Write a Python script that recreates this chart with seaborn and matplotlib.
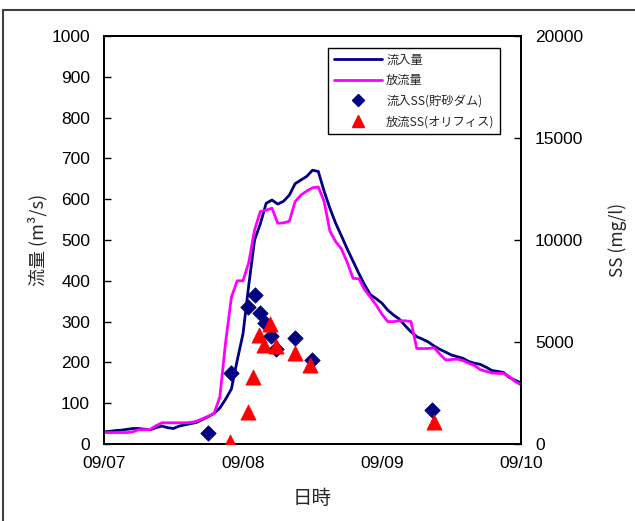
import numpy as np
import pandas as pd
import matplotlib
matplotlib.use("Agg")
import matplotlib.pyplot as plt
import seaborn as sns
from matplotlib.lines import Line2D

sns.set_theme(style="white")
plt.rcParams['font.family'] = ['Liberation Sans', 'Noto Sans CJK JP', 'DejaVu Sans']

# ---- data ----
hours = list(range(73))
inflow = [30, 31, 33, 34, 36, 38, 38, 36, 35, 40, 44, 40, 38, 44, 47, 50, 53, 60, 67, 75,
          88, 110, 135, 205, 270, 390, 500, 540, 590, 598, 588, 595, 610, 638, 647, 656,
          671, 668, 620, 578, 541, 510, 478, 448, 418, 390, 366, 356, 345, 328, 316, 306,
          290, 275, 263, 257, 250, 240, 232, 225, 218, 214, 210, 202, 198, 195, 188, 180,
          178, 175, 163, 156, 150]
outflow = [28, 28, 28, 28, 28, 30, 35, 35, 36, 45, 52, 52, 52, 52, 52, 53, 56, 62, 68, 75,
           115, 250, 360, 400, 400, 445, 525, 570, 573, 578, 541, 542, 546, 594, 610, 620,
           628, 630, 595, 522, 496, 478, 445, 406, 405, 378, 360, 340, 318, 300, 300, 302,
           302, 300, 234, 234, 234, 236, 220, 206, 207, 208, 204, 198, 192, 182, 178, 174,
           173, 173, 165, 153, 145]
ss_in_hours = [17.9, 21.9, 24.8, 26.0, 26.9, 27.8, 28.9, 29.7, 33.0, 35.9, 56.6]
ss_in = [525, 3465, 6730, 7300, 6400, 5915, 5300, 4650, 5220, 4120, 1670]
ss_out_hours = [21.8, 24.8, 25.8, 26.7, 27.7, 28.6, 29.7, 32.9, 35.6, 56.9]
ss_out = [110, 1580, 3300, 5340, 4850, 5900, 4820, 4445, 3870, 1080]
x_ticks = [0, 24, 48, 72]
x_labels = ["09/07", "09/08", "09/09", "09/10"]
labels = ["流入量", "放流量", "流入SS(貯砂ダム)", "放流SS(オリフィス)"]

navy = "#000080"
magenta = "#FF00FF"
red = "#FF0000"

W, H = 635, 521
fig = plt.figure(figsize=(W / 100, H / 100), dpi=100)
fig.patch.set_facecolor("white")
ax = fig.add_axes([104 / W, (H - 444) / H, (521 - 104) / W, (444 - 36) / H])
ax2 = ax.twinx()

sns.lineplot(x=hours, y=inflow, ax=ax, color=navy, linewidth=2.0)
sns.lineplot(x=hours, y=outflow, ax=ax, color=magenta, linewidth=2.0)
sns.scatterplot(x=ss_in_hours, y=ss_in, ax=ax2, marker="D", s=62, color=navy,
                edgecolor=navy, linewidth=0.5, zorder=3)
sns.scatterplot(x=ss_out_hours, y=ss_out, ax=ax2, marker="^", s=120, color=red,
                edgecolor=red, linewidth=0.5, zorder=4)

ax.set_xlim(0, 72)
ax.set_ylim(0, 1000)
ax2.set_ylim(0, 20000)
ax.set_yticks(range(0, 1001, 100))
ax2.set_yticks(range(0, 20001, 5000))
ax.set_xticks(x_ticks)
ax.set_xticklabels(x_labels)

for a in (ax, ax2):
    for sp in a.spines.values():
        sp.set_color("black")
        sp.set_linewidth(1.3)
ax.tick_params(axis="both", direction="in", length=5, width=1, color="black",
               labelsize=12.5, pad=10, labelcolor="black")
ax2.tick_params(axis="y", direction="in", length=5, width=1, color="black",
                labelsize=12.5, pad=10, labelcolor="black")
ax.tick_params(axis="x", pad=9)

ax.set_ylabel("流量 (m³/s)", fontsize=13, family=['Noto Sans CJK JP', 'DejaVu Sans'])
ax.yaxis.set_label_coords(-0.135, 0.5)
ax2.set_ylabel("SS (mg/l)", fontsize=12.5, family=['Noto Sans CJK JP', 'DejaVu Sans'])
ax2.yaxis.set_label_coords(1.21, 0.5)
ax.set_xlabel("日時", fontsize=14, family=['Noto Sans CJK JP', 'DejaVu Sans'])
ax.xaxis.set_label_coords(0.5, -0.108)

handles = [
    Line2D([], [], color=navy, lw=2),
    Line2D([], [], color=magenta, lw=2),
    Line2D([], [], color=navy, marker="D", ls="none", markersize=6),
    Line2D([], [], color=red, marker="^", ls="none", markersize=9),
]
leg = fig.legend(handles, labels, loc="upper left",
                 bbox_to_anchor=(328 / W, 1 - 48 / H), borderaxespad=0,
                 frameon=True, fancybox=False, edgecolor="black", framealpha=1,
                 prop={'family': ['Noto Sans CJK JP', 'DejaVu Sans'], 'size': 8.8},
                 handlelength=4.0, handletextpad=0.3, labelspacing=0.62,
                 borderpad=0.45)
leg.get_frame().set_linewidth(1.0)

# chart-area border
fig.add_artist(Line2D([3 / W, 3 / W], [0, 1 - 10 / H], transform=fig.transFigure,
                      color="#404040", lw=1.5))
fig.add_artist(Line2D([3 / W, 1], [1 - 10 / H, 1 - 10 / H], transform=fig.transFigure,
                      color="#404040", lw=1.5))

fig.savefig("out.png", dpi=100, facecolor="white")
